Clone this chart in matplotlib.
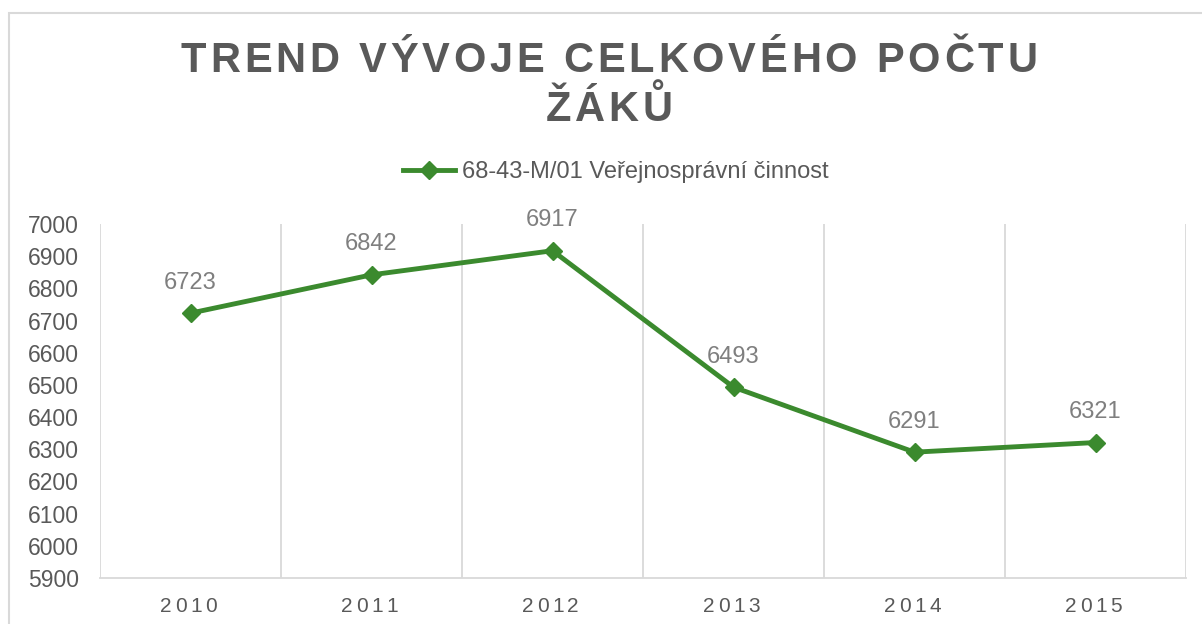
import matplotlib
matplotlib.use("Agg")
import matplotlib.pyplot as plt
from matplotlib.patches import Rectangle

years = ["2010", "2011", "2012", "2013", "2014", "2015"]
values = [6723, 6842, 6917, 6493, 6291, 6321]
series_name = "68-43-M/01 Veřejnosprávní činnost"
title_lines = ["TREND VÝVOJE CELKOVÉHO POČTU", "ŽÁKŮ"]
yticks = list(range(5900, 7001, 100))

W, H = 1202, 624
plt.rcParams['font.family'] = ['Liberation Sans', 'DejaVu Sans']
fig = plt.figure(figsize=(W / 100, H / 100), dpi=100)
fig.patch.set_facecolor('white')

GREEN = '#3b8a2e'
GREY_TXT = '#595959'
GRID = '#d9d9d9'

# outer border
fig.patches.append(Rectangle((9 / W, -0.1), 1.2, (H - 13) / H + 0.1, transform=fig.transFigure,
                             fill=False, edgecolor=GRID, linewidth=1.5))

ax = fig.add_axes([100 / W, 1 - 578 / H, (1186 - 100) / W, (578 - 224) / H])
x = list(range(len(years)))
ax.plot(x, values, color=GREEN, linewidth=3.5, marker='D', markersize=9,
        markerfacecolor=GREEN, markeredgecolor=GREEN, label=series_name, zorder=3)
ax.set_xlim(-0.5, len(years) - 0.5)
ax.set_ylim(5900, 7000)
ax.set_yticks(yticks)
ax.set_yticklabels([str(v) for v in yticks], fontsize=16.5, color=GREY_TXT)
ax.tick_params(axis='y', length=0, pad=15)
ax.set_xticks(x)
ax.set_xticklabels([])
ax.tick_params(axis='x', length=0)
for b in [i - 0.5 for i in range(len(years) + 1)]:
    ax.axvline(b, color=GRID, linewidth=1.3, zorder=1)
for s in ['left', 'right', 'top']:
    ax.spines[s].set_visible(False)
ax.spines['bottom'].set_color(GRID)
ax.spines['bottom'].set_linewidth(1.3)

for xi, v in zip(x, values):
    ax.annotate(str(v), (xi, v), xytext=(0, 14), textcoords='offset points',
                ha='center', va='bottom', fontsize=17, color='#7f7f7f')

renderer = fig.canvas.get_renderer()


def spaced_text(xc, y_base, s, tracking, **kw):
    widths = []
    for ch in s:
        if ch == ' ':
            widths.append(0.278 * kw['fontsize'] * 100 / 72)
        else:
            t = fig.text(0, 0, ch, **kw)
            widths.append(t.get_window_extent(renderer).width)
            t.remove()
    total = sum(widths) + tracking * (len(s) - 1)
    xx = xc - total / 2
    for ch, w in zip(s, widths):
        if ch != ' ':
            fig.text(xx / W, 1 - y_base / H, ch, ha='left', va='baseline', **kw)
        xx += w + tracking


spaced_text(609, 72.5, title_lines[0], 3.8, fontsize=30, fontweight='bold', color=GREY_TXT)
spaced_text(609, 121, title_lines[1], 3.8, fontsize=30, fontweight='bold', color=GREY_TXT)

# x labels letter-spaced
for xi, yr in zip(x, years):
    xc = 100 + (xi + 0.5) * (1186 - 100) / len(years)
    spaced_text(xc - 2, 612, yr, 3.5, fontsize=15, color=GREY_TXT)

leg = fig.legend(loc='center', bbox_to_anchor=(616 / W, 1 - 172 / H), frameon=False,
                 fontsize=17, labelcolor=GREY_TXT, handlelength=2.2, handletextpad=0.3)

fig.savefig('out.png', dpi=100, facecolor='white')
